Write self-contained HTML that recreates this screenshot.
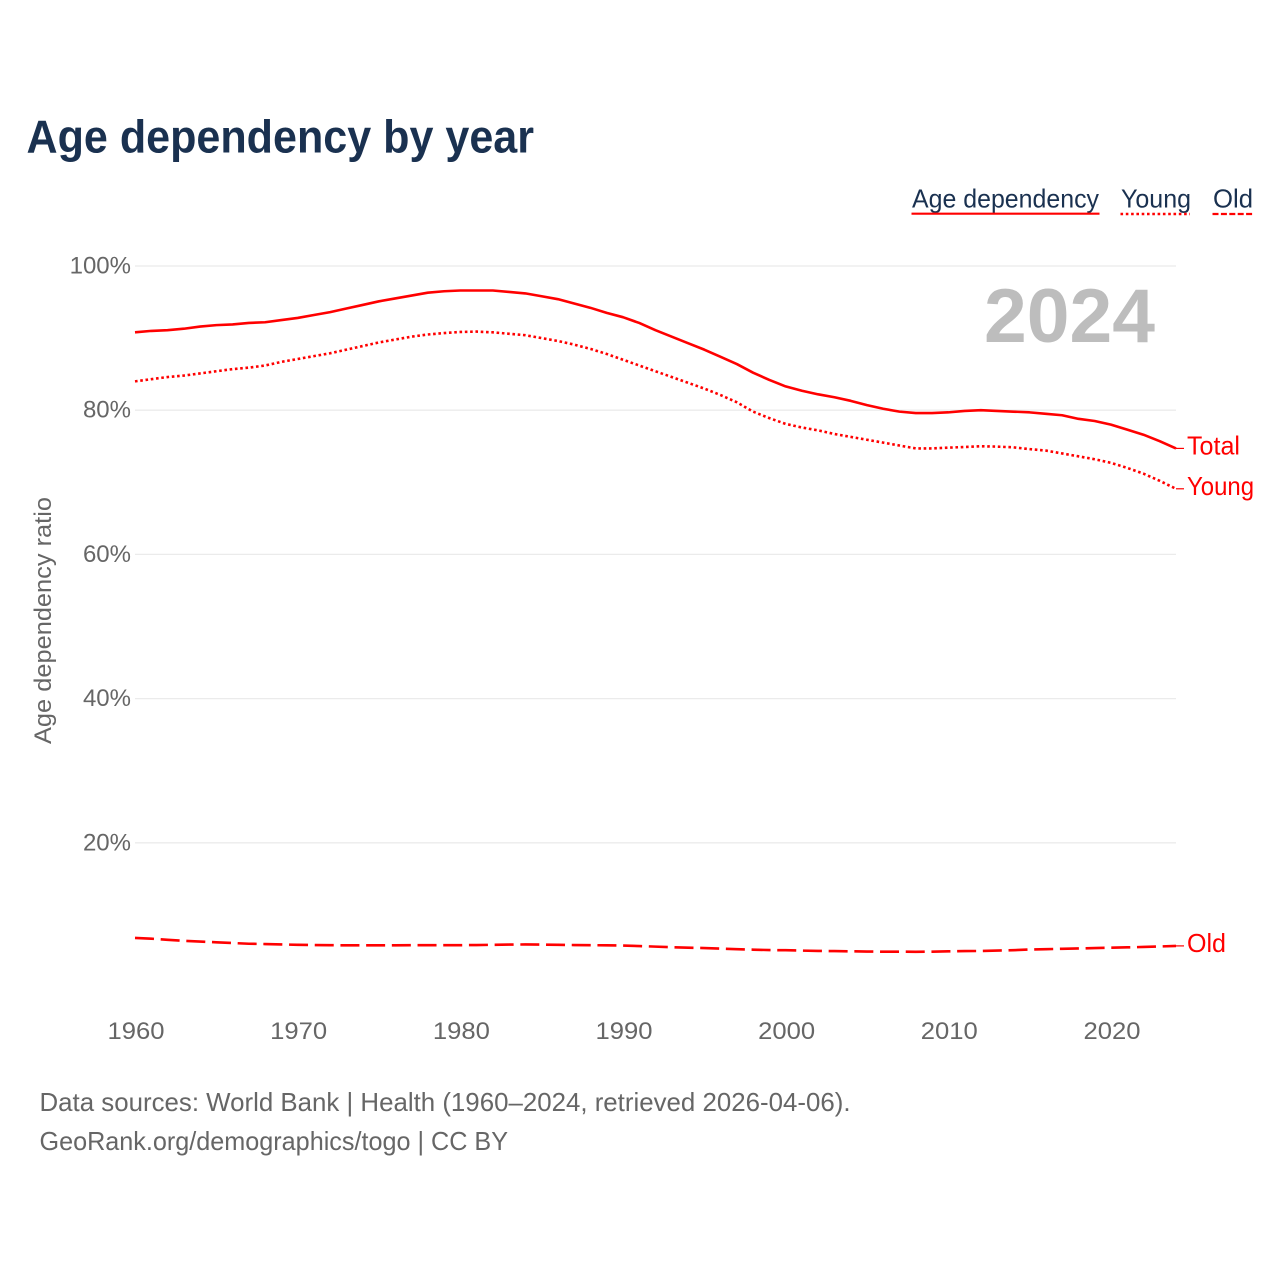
<!DOCTYPE html>
<html lang="en">
<head>
<meta charset="utf-8">
<title>Age dependency by year</title>
<style>
html,body{margin:0;padding:0;background:#fff;}
svg{display:block;font-family:"Liberation Sans",sans-serif;}
</style>
</head>
<body>
<svg id="chart" xmlns="http://www.w3.org/2000/svg" width="1280" height="1280" viewBox="0 0 1280 1280">
  <rect x="0" y="0" width="1280" height="1280" fill="#ffffff"/>
  <text x="26.5" y="152.5" font-size="46" font-weight="700" fill="#1a3150" textLength="507.5" lengthAdjust="spacingAndGlyphs">Age dependency by year</text>

  <g font-size="26" fill="#1a3150">
    <g>
      <text x="912" y="207.5" textLength="187" lengthAdjust="spacingAndGlyphs">Age dependency</text>
      <line x1="911.5" x2="1099.5" y1="213.7" y2="213.7" stroke="#ff0000" stroke-width="2.2"/>
    </g>
    <g>
      <text x="1121" y="207.5" textLength="70" lengthAdjust="spacingAndGlyphs">Young</text>
      <line x1="1120.5" x2="1190" y1="214" y2="214" stroke="#ff0000" stroke-width="2.6" stroke-dasharray="2.6,2.7"/>
    </g>
    <g>
      <text x="1213" y="207.5" textLength="40" lengthAdjust="spacingAndGlyphs">Old</text>
      <line x1="1212.5" x2="1254" y1="214" y2="214" stroke="#ff0000" stroke-width="2.2" stroke-dasharray="6,2.4"/>
    </g>
  </g>

  <g id="grid"></g>
  <text x="984" y="342" font-size="76" font-weight="700" fill="#bdbdbd" textLength="171" lengthAdjust="spacingAndGlyphs">2024</text>
  <g id="y-ticks"></g>
  <g id="x-ticks"></g>
  <text transform="translate(51,744) rotate(-90)" x="0" y="0" font-size="24" fill="#666666" textLength="247" lengthAdjust="spacingAndGlyphs">Age dependency ratio</text>
  <g id="series"></g>

  <text x="39.5" y="1111" font-size="26" fill="#666666" textLength="811" lengthAdjust="spacingAndGlyphs">Data sources: World Bank | Health (1960–2024, retrieved 2026-04-06).</text>
  <text x="39.5" y="1150" font-size="26" fill="#666666" textLength="468.5" lengthAdjust="spacingAndGlyphs">GeoRank.org/demographics/togo | CC BY</text>
</svg>
<script>
const startYear = 1960;
const yTickValues = [20, 40, 60, 80, 100];
const xTickValues = [1960, 1970, 1980, 1990, 2000, 2010, 2020];
const totalValues = [90.8,91.0,91.1,91.3,91.6,91.8,91.9,92.1,92.2,92.5,92.8,93.2,93.6,94.1,94.6,95.1,95.5,95.9,96.3,96.5,96.6,96.6,96.6,96.4,96.2,95.8,95.4,94.8,94.2,93.5,92.9,92.1,91.1,90.2,89.3,88.4,87.4,86.4,85.2,84.2,83.3,82.7,82.2,81.8,81.3,80.7,80.2,79.8,79.6,79.6,79.7,79.9,80.0,79.9,79.8,79.7,79.5,79.3,78.8,78.5,78.0,77.3,76.6,75.7,74.7];
const youngValues = [84.0,84.3,84.6,84.8,85.1,85.4,85.7,85.9,86.2,86.7,87.1,87.5,87.9,88.4,88.9,89.4,89.8,90.2,90.5,90.7,90.85,90.9,90.8,90.6,90.4,90.0,89.6,89.1,88.5,87.8,87.0,86.2,85.4,84.6,83.8,83.0,82.1,81.1,79.8,78.9,78.1,77.6,77.2,76.7,76.3,75.9,75.5,75.1,74.7,74.7,74.8,74.9,75.0,74.95,74.85,74.6,74.4,74.0,73.6,73.2,72.7,72.0,71.2,70.2,69.1];
const oldValues = [6.8,6.7,6.55,6.4,6.3,6.2,6.1,6.0,5.96,5.9,5.85,5.82,5.8,5.78,5.78,5.78,5.78,5.8,5.8,5.8,5.8,5.82,5.85,5.88,5.9,5.88,5.85,5.82,5.8,5.78,5.75,5.68,5.6,5.52,5.45,5.4,5.32,5.25,5.18,5.12,5.1,5.05,5.0,4.98,4.95,4.92,4.9,4.9,4.88,4.9,4.95,4.98,5.0,5.05,5.1,5.2,5.25,5.3,5.35,5.4,5.45,5.5,5.55,5.62,5.7];
const endLabels = ["Total", "Young", "Old"];

const SVG_NS = "http://www.w3.org/2000/svg";
function xScale(year) { return 135 + (year - 1960) * (1176 - 135) / 64; }
function yScale(value) { return 987 - value * 7.21; }

const gridGroup = document.getElementById("grid");
const yTickGroup = document.getElementById("y-ticks");
yTickValues.forEach(function (value) {
  const line = document.createElementNS(SVG_NS, "line");
  
  
  line.setAttribute("x1", 135);
  line.setAttribute("x2", 1176);
  line.setAttribute("y1", yScale(value));
  line.setAttribute("y2", yScale(value));
  line.setAttribute("stroke", "#ebebeb");
  line.setAttribute("stroke-width", "1.3");
  gridGroup.appendChild(line);

  const label = document.createElementNS(SVG_NS, "text");
  
  
  label.setAttribute("x", 131);
  label.setAttribute("y", yScale(value) + 7.5);
  label.setAttribute("text-anchor", "end");
  label.setAttribute("font-size", "24");
  label.setAttribute("fill", "#666666");
  label.textContent = value + "%";
  yTickGroup.appendChild(label);
});

const xTickGroup = document.getElementById("x-ticks");
xTickValues.forEach(function (year) {
  const label = document.createElementNS(SVG_NS, "text");
  
  
  label.setAttribute("x", xScale(year) + 1 - 28.5);
  label.setAttribute("y", 1039);
  label.setAttribute("font-size", "24");
  label.setAttribute("fill", "#666666");
  label.setAttribute("textLength", "57");
  label.setAttribute("lengthAdjust", "spacingAndGlyphs");
  label.textContent = String(year);
  xTickGroup.appendChild(label);
});

function linePath(values) {
  return values.map(function (value, i) {
    return (i ? "L" : "M") + xScale(startYear + i).toFixed(2) + " " + yScale(value).toFixed(2);
  }).join(" ");
}

const seriesGroup = document.getElementById("series");
const allSeries = [totalValues, youngValues, oldValues];
const seriesDashes = ["none", "2.6,2.7", "19,6.7"];
const labelLengths = [53, 67, 39];
allSeries.forEach(function (values, i) {
  const path = document.createElementNS(SVG_NS, "path");
  
  
  path.setAttribute("d", linePath(values));
  path.setAttribute("fill", "none");
  path.setAttribute("stroke", "#ff0000");
  path.setAttribute("stroke-width", "2.6");
  path.setAttribute("stroke-linejoin", "round");
  path.setAttribute("stroke-dasharray", seriesDashes[i]);
  seriesGroup.appendChild(path);

  const lastValue = values[values.length - 1];
  const lastYear = startYear + values.length - 1;

  const leader = document.createElementNS(SVG_NS, "line");
  
  
  leader.setAttribute("x1", xScale(lastYear));
  leader.setAttribute("x2", xScale(lastYear) + 8);
  leader.setAttribute("y1", yScale(lastValue));
  leader.setAttribute("y2", yScale(lastValue));
  leader.setAttribute("stroke", "#ff0000");
  leader.setAttribute("stroke-width", "1.2");
  seriesGroup.appendChild(leader);

  const label = document.createElementNS(SVG_NS, "text");
  
  
  label.setAttribute("x", xScale(lastYear) + 11);
  label.setAttribute("y", yScale(lastValue) + 6);
  label.setAttribute("font-size", "26");
  label.setAttribute("fill", "#ff0000");
  label.setAttribute("textLength", labelLengths[i]);
  label.setAttribute("lengthAdjust", "spacingAndGlyphs");
  label.textContent = endLabels[i];
  seriesGroup.appendChild(label);
});
</script>
</body>
</html>
